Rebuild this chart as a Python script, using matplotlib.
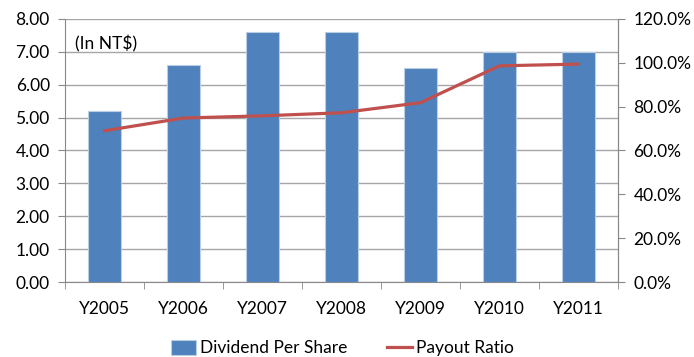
import numpy as np
import matplotlib.pyplot as plt
from matplotlib.ticker import FuncFormatter, FixedLocator

years = ["Y2005", "Y2006", "Y2007", "Y2008", "Y2009", "Y2010", "Y2011"]
dividend = [5.20, 6.60, 7.60, 7.60, 6.50, 7.00, 7.00]
payout = [69.0, 74.8, 75.8, 77.2, 81.8, 98.6, 99.4]

plt.rcParams['font.family'] = ['Lato', 'DejaVu Sans']
plt.rcParams['font.size'] = 12.5

fig = plt.figure(figsize=(6.94, 3.57), dpi=100)
ax = fig.add_axes([0.0937, 0.210, 0.7968, 0.737])
x = np.arange(len(years))

ax.bar(x, dividend, width=0.41, color='#4F81BD', edgecolor='#B9CDE5', linewidth=0.8, zorder=3,
       label='Dividend Per Share')
ax.set_xlim(-0.5, len(years) - 0.5)
ax.set_ylim(0, 8)
ax.set_yticks(np.arange(0, 9, 1))
ax.yaxis.set_major_formatter(FuncFormatter(lambda v, p: f"{v:.2f}"))
ax.grid(axis='y', color='#A6A6A6', linewidth=1.0, zorder=0)
ax.set_xticks(x)
ax.set_xticklabels(years)
ax.xaxis.set_minor_locator(FixedLocator(np.arange(-0.5, len(years), 1)))
ax.tick_params(axis='x', which='major', length=0, pad=14)
ax.tick_params(axis='x', which='minor', length=5, color='#888888', direction='out')
ax.tick_params(axis='y', length=5, color='#888888', pad=6)
ax.spines['top'].set_visible(False)
for s in ['left', 'bottom', 'right']:
    ax.spines[s].set_color('#888888')

ax2 = ax.twinx()
ax2.plot(x, payout, color='#C0504D', linewidth=2.3, zorder=4, label='Payout Ratio')
ax2.set_ylim(0, 120)
ax2.set_yticks(np.arange(0, 121, 20))
ax2.yaxis.set_major_formatter(FuncFormatter(lambda v, p: f"{v:.1f}%"))
ax2.tick_params(axis='y', length=5, color='#888888', pad=6)
ax2.spines['top'].set_visible(False)
ax2.spines['right'].set_color('#888888')
ax2.spines['left'].set_visible(False)
ax2.spines['bottom'].set_visible(False)

ax.text(0.018, 0.885, "(In NT$)", transform=ax.transAxes, fontsize=12.5, zorder=5)

h1, l1 = ax.get_legend_handles_labels()
h2, l2 = ax2.get_legend_handles_labels()
fig.legend(h1 + h2, l1 + l2, loc='center', bbox_to_anchor=(0.493, 0.025), ncol=2, frameon=False,
           handlelength=1.45, handleheight=1.0, columnspacing=2.3, handletextpad=0.2)

fig.savefig("out.png", dpi=100)
